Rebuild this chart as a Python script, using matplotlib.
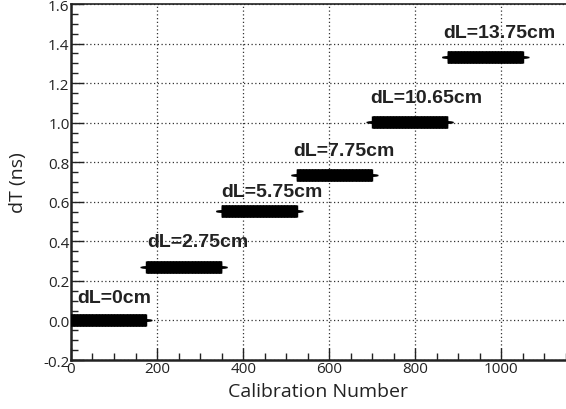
import numpy as np
import matplotlib
matplotlib.use("Agg")
import matplotlib.pyplot as plt
from matplotlib.ticker import MultipleLocator

# Data
group_labels = ["dL=0cm", "dL=2.75cm", "dL=5.75cm", "dL=7.75cm", "dL=10.65cm", "dL=13.75cm"]
group_levels = [0.0, 0.27, 0.553, 0.735, 1.003, 1.332]   # dT (ns)
group_start = [0, 175, 350, 525, 700, 875]               # calibration number range start
group_count = [175, 175, 175, 175, 175, 175]
group_spread = [0.022, 0.02, 0.019, 0.018, 0.017, 0.017]  # visible half-width of band
label_x = [14, 177, 349, 516, 695, 865]
label_y = [0.118, 0.40, 0.654, 0.857, 1.125, 1.458]

fig = plt.figure(figsize=(5.66, 4.10), dpi=100)
ax = fig.add_axes([0.1254, 0.1195, 0.8746, 0.8683])

for start, n, lev, sp in zip(group_start, group_count, group_levels, group_spread):
    xs = np.arange(start, start + n)
    ys = np.full(n, lev)
    ax.errorbar(xs, ys, yerr=sp, fmt='+', color='black', ms=8, mew=1.0,
                elinewidth=0.8, capsize=0, zorder=3)

for txt, x, y in zip(group_labels, label_x, label_y):
    ax.text(x, y, txt, fontsize=14, fontweight='bold', family='Liberation Sans',
            ha='left', va='center', color='#222222', zorder=4)

ax.set_xlim(0, 1150)
ax.set_ylim(-0.2, 1.6)
ax.xaxis.set_major_locator(MultipleLocator(200))
ax.xaxis.set_minor_locator(MultipleLocator(50))
ax.yaxis.set_major_locator(MultipleLocator(0.2))
ax.yaxis.set_minor_locator(MultipleLocator(0.05))
ax.set_yticks(np.arange(-0.2, 1.61, 0.2))
ax.set_yticklabels(["-0.2", "0.0", "0.2", "0.4", "0.6", "0.8", "1.0", "1.2", "1.4", "1.6"])
ax.set_xticks([0, 200, 400, 600, 800, 1000])
ax.set_xticklabels(["0", "200", "400", "600", "800", "1000"])

ax.tick_params(which='major', direction='in', length=9, width=1.0, labelsize=11,
               pad=1, colors='#222222')
ax.tick_params(which='minor', direction='in', length=5, width=1.0, colors='#222222')
for lbl in ax.get_xticklabels() + ax.get_yticklabels():
    lbl.set_family('Open Sans')

ax.grid(True, which='major', linestyle=(0, (1, 2)), color='#333333', linewidth=0.9)
ax.set_axisbelow(True)

ax.spines['right'].set_visible(False)
for s in ['left', 'bottom']:
    ax.spines[s].set_linewidth(1.8)
    ax.spines[s].set_color('#222222')
ax.spines['top'].set_linewidth(1.2)
ax.spines['top'].set_color('#222222')

ax.set_xlabel("Calibration Number", fontsize=14, family='Open Sans', color='#222222', labelpad=4)
ax.set_ylabel("dT (ns)", fontsize=14, family='Open Sans', color='#222222', labelpad=12)

fig.savefig("out.png", dpi=100)
